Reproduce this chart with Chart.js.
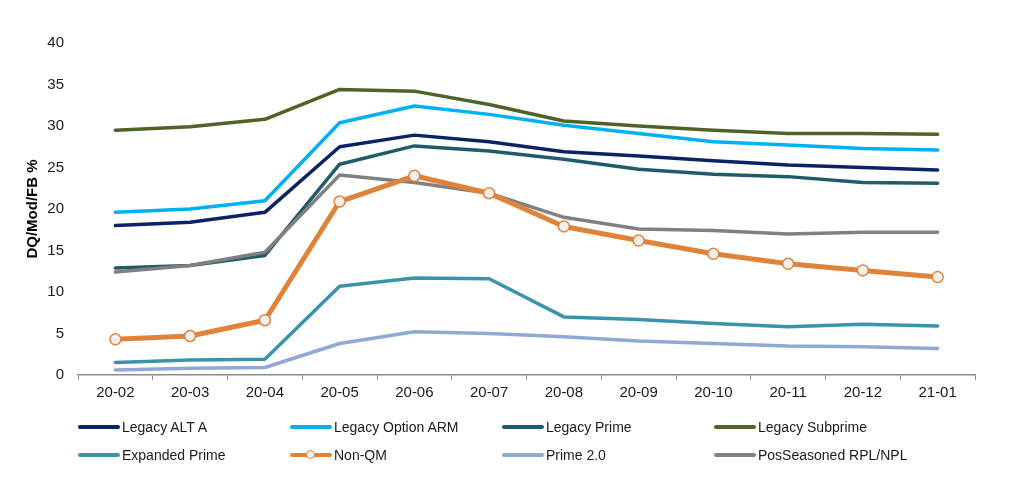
<!DOCTYPE html>
<html>
<head>
<meta charset="utf-8">
<script src="https://cdn.jsdelivr.net/npm/chart.js@4"></script>
<style>
  body { margin: 0; background: #fff; }
  #wrap { position: relative; width: 1024px; height: 493px; }
  #legend { position: absolute; left: 0; top: 0; width: 1024px; height: 493px; pointer-events: none;
            font: 14px "Liberation Sans", Arial, sans-serif; color: #1a1a1a; }
  .item { position: absolute; height: 20px; display: flex; align-items: center; white-space: nowrap; }
  .swatch { position: relative; width: 42px; height: 4px; border-radius: 2px; margin-right: 2px; }
  .dot { position: absolute; left: 16px; top: -3px; width: 7px; height: 7px; border-radius: 50%; background: #f0f0f0; }
</style>
</head>
<body>
<div id="wrap">
  <canvas id="grafico" width="1024" height="493"></canvas>
  <div id="legend"></div>
</div>
<script>
// categorias e séries
const meses = ['20-02','20-03','20-04','20-05','20-06','20-07','20-08','20-09','20-10','20-11','20-12','21-01'];

const legacyAltA      = [18.0, 18.4, 19.6, 27.5, 28.9, 28.1, 26.9, 26.4, 25.8, 25.3, 25.0, 24.7];
const legacyOptionArm = [19.6, 20.0, 21.0, 30.4, 32.4, 31.4, 30.1, 29.1, 28.1, 27.7, 27.3, 27.1];
const legacyPrime     = [12.9, 13.2, 14.4, 25.4, 27.6, 27.0, 26.0, 24.8, 24.2, 23.9, 23.2, 23.1];
const legacySubprime  = [29.5, 29.9, 30.8, 34.4, 34.2, 32.6, 30.6, 30.0, 29.5, 29.1, 29.1, 29.0];
const expandedPrime   = [1.5, 1.8, 1.9, 10.7, 11.7, 11.6, 7.0, 6.7, 6.2, 5.8, 6.1, 5.9];
const nonQM           = [4.3, 4.7, 6.6, 20.9, 24.0, 21.9, 17.9, 16.2, 14.6, 13.4, 12.6, 11.8];
const prime20         = [0.6, 0.8, 0.9, 3.8, 5.2, 5.0, 4.6, 4.1, 3.8, 3.5, 3.4, 3.2];
const posSeasoned     = [12.4, 13.2, 14.8, 24.1, 23.2, 21.9, 19.0, 17.6, 17.4, 17.0, 17.2, 17.2];

const yTicks = [0, 5, 10, 15, 20, 25, 30, 35, 40];

const nomes = ['Legacy ALT A','Legacy Option ARM','Legacy Prime','Legacy Subprime',
               'Expanded Prime','Non-QM','Prime 2.0','PosSeasoned RPL/NPL'];
const valores = [legacyAltA, legacyOptionArm, legacyPrime, legacySubprime,
                 expandedPrime, nonQM, prime20, posSeasoned];
const cores = ['#0b2266','#00b0f0','#215a69','#4f6228','#3a93ab','#e0833a','#8fa8d4','#808080'];

const FONTE = '"Liberation Sans", Arial, sans-serif';

const datasets = nomes.map((nome, i) => {
  const ehQM = nome === 'Non-QM';
  return {
    label: nome,
    data: valores[i],
    borderColor: cores[i],
    backgroundColor: cores[i],
    borderWidth: ehQM ? 5 : 3.5,
    tension: 0,
    fill: false,
    order: ehQM ? -1 : (nome === 'PosSeasoned RPL/NPL' ? 0 : 1),
    pointRadius: ehQM ? 5.5 : 0,
    pointHoverRadius: ehQM ? 5.5 : 0,
    pointBackgroundColor: '#f0f0f0',
    pointBorderColor: cores[i],
    pointBorderWidth: 1.5,
    borderCapStyle: 'round',
    borderJoinStyle: 'round'
  };
});

const ctx = document.getElementById('grafico').getContext('2d');
new Chart(ctx, {
  type: 'line',
  data: { labels: meses, datasets: datasets },
  options: {
    responsive: false,
    animation: false,
    layout: { padding: { top: 43, right: 49, left: 0, bottom: 0 } },
    plugins: { legend: { display: false }, tooltip: { enabled: false } },
    scales: {
      x: {
        offset: true,
        grid: { display: true, drawOnChartArea: false, offset: true, tickLength: 5, color: '#8c8c8c', lineWidth: 1 },
        border: { display: true, color: '#8c8c8c', width: 1.5 },
        ticks: { color: '#1a1a1a', font: { family: FONTE, size: 15 }, padding: 4, maxRotation: 0 },
        afterFit: s => { s.height = 118; }
      },
      y: {
        min: 0, max: 40,
        afterBuildTicks: s => { s.ticks = yTicks.map(v => ({ value: v })); },
        grid: { display: false, drawTicks: false },
        border: { display: false },
        ticks: { color: '#1a1a1a', font: { family: FONTE, size: 15 }, padding: 14 },
        title: {
          display: true, text: 'DQ/Mod/FB %', color: '#000',
          font: { family: FONTE, size: 15, weight: 'bold' },
          padding: { top: 24, bottom: 0 }
        },
        afterFit: s => { s.width = 78; }
      }
    }
  }
});

// legenda manual em grade 4 x 2
const legenda = document.getElementById('legend');
nomes.forEach((nome, i) => {
  const col = i % 4, lin = Math.floor(i / 4);
  const item = document.createElement('div');
  item.className = 'item';
  item.style.left = (78 + col * 212) + 'px';
  item.style.top = (417 + lin * 28) + 'px';
  const sw = document.createElement('div');
  sw.className = 'swatch';
  sw.style.background = cores[i];
  if (nome === 'Non-QM') {
    const d = document.createElement('div');
    d.className = 'dot';
    d.style.border = '1.5px solid ' + cores[i];
    d.style.top = '-3.5px';
    sw.appendChild(d);
  }
  item.appendChild(sw);
  const t = document.createElement('span');
  t.textContent = nome;
  item.appendChild(t);
  legenda.appendChild(item);
});
</script>
</body>
</html>
